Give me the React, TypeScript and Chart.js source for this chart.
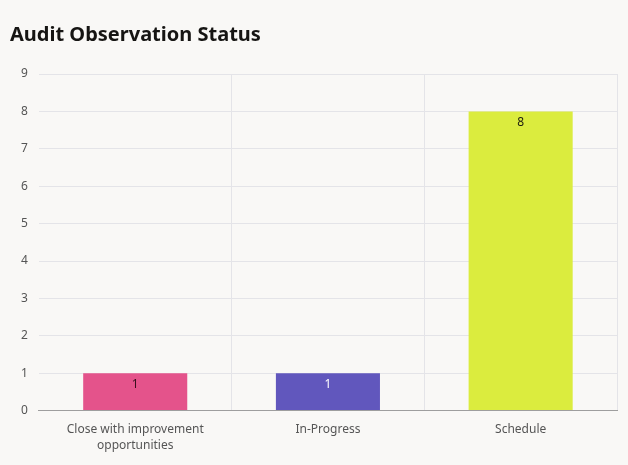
import React, { useEffect, useRef } from "react";
import { Chart, registerables } from "chart.js";

Chart.register(...registerables);

const categories: (string | string[])[] = [
  ["Close with improvement", "opportunities"],
  "In-Progress",
  "Schedule",
];
const values: number[] = [1, 1, 8];
const barColors: string[] = ["#e4538b", "#6157bd", "#dbec3e"];
const labelColors: string[] = ["#3a0f1e", "#ffffff", "#1c1c10"];
const titleText = "Audit Observation Status";

const FONT = "'Noto Sans', sans-serif";

const valueLabels = {
  id: "valueLabels",
  afterDatasetsDraw(chart: any) {
    const ctx = chart.ctx;
    const meta = chart.getDatasetMeta(0);
    ctx.save();
    ctx.font = `12px ${FONT}`;
    ctx.textAlign = "center";
    ctx.textBaseline = "middle";
    meta.data.forEach((bar: any, i: number) => {
      ctx.fillStyle = labelColors[i];
      ctx.fillText(String(values[i]), bar.x, bar.y + 11);
    });
    ctx.restore();
  },
};

export default function App() {
  const ref = useRef<HTMLCanvasElement>(null);
  useEffect(() => {
    const chart = new Chart(ref.current!, {
      type: "bar",
      data: {
        labels: categories,
        datasets: [
          {
            data: values,
            backgroundColor: barColors,
            categoryPercentage: 0.54,
            barPercentage: 1,
          },
        ],
      },
      options: {
        animation: false,
        responsive: false,
        layout: { padding: { left: 10, right: 11, top: 14, bottom: 0 } },
        plugins: {
          legend: { display: false },
          tooltip: { enabled: false },
          title: {
            display: true,
            text: titleText,
            align: "start",
            color: "#161513",
            font: { family: FONT, size: 20, weight: "bold" },
            padding: { top: 9, bottom: 27 },
          },
        },
        scales: {
          x: {
            grid: {
              color: (c: any) =>
                c.index === 0 || c.index === categories.length ? "rgba(0,0,0,0)" : "#e4e4e8",
              drawTicks: false,
            },
            border: { color: "#9e9e9e", width: 1 },
            ticks: {
              color: "#555555",
              font: { family: FONT, size: 12, lineHeight: 1.35 },
              padding: 11,
              maxRotation: 0,
            },
          },
          y: {
            min: 0,
            max: 9,
            ticks: {
              stepSize: 1,
              color: "#555555",
              font: { family: FONT, size: 12 },
              padding: 11,
            },
            grid: { color: "#e4e4e8", drawTicks: false },
            border: { display: false },
          },
        },
      },
      plugins: [valueLabels],
    });
    return () => chart.destroy();
  }, []);
  return (
    <div
      style={{
        position: "fixed",
        left: 0,
        top: 0,
        width: 628,
        height: 465,
        background: "#f9f8f6",
      }}
    >
      <canvas ref={ref} width={628} height={465} />
    </div>
  );
}
